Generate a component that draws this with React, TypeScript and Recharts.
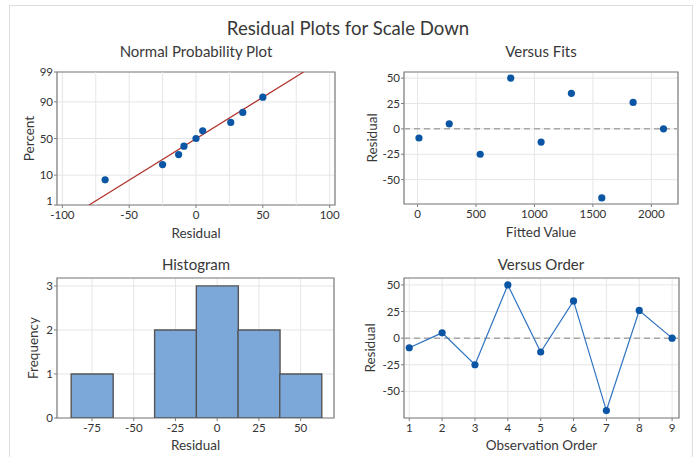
import React from 'react';
import {
  ComposedChart,
  Scatter,
  Line,
  Bar,
  XAxis,
  YAxis,
  CartesianGrid,
  ReferenceLine,
  ReferenceArea,
  Label,
} from 'recharts';

const observationOrder = [1, 2, 3, 4, 5, 6, 7, 8, 9];
const residuals = [-9, 5, -25, 50, -13, 35, -68, 26, 0];
const fittedValues = [12, 271, 536, 797, 1057, 1316, 1576, 1844, 2104];

// normal probability plot
const sortedResiduals = [-68, -25, -13, -9, 0, 5, 26, 35, 50];
const plotPercents = [7.4, 18.1, 28.7, 39.4, 50, 60.6, 71.3, 81.9, 92.6];
const fitLineResiduals = [-80, 80.5];
const fitLinePercents = [1, 99];
const percentTicks = [1, 10, 50, 90, 99];

// histogram
const binCenters = [-75, -50, -25, 0, 25, 50];
const binCounts = [1, 0, 2, 3, 2, 1];

const FONT = 'Lato, "Noto Sans", sans-serif';
const TEXT = '#383838';
const GRID = '#e6e6e6';
const FRAME = '#7f7f7f';
const BLUE = '#0b56a4';

// inverse normal cdf (Acklam) so the y axis can be a probability scale
function probit(pct: number) {
  const p = pct / 100;
  const a = [-39.69683028665376, 220.9460984245205, -275.9285104469687, 138.357751867269, -30.66479806614716, 2.506628277459239];
  const b = [-54.47609879822406, 161.5858368580409, -155.6989798598866, 66.80131188771972, -13.28068155288572];
  const c = [-0.007784894002430293, -0.3223964580411365, -2.400758276161838, -2.549732539343734, 4.374664141464968, 2.938163982698783];
  const d = [0.007784695709041462, 0.3224671290700398, 2.445134137142996, 3.754408661907416];
  const lo = 0.02425;
  if (p < lo) {
    const q = Math.sqrt(-2 * Math.log(p));
    return (((((c[0] * q + c[1]) * q + c[2]) * q + c[3]) * q + c[4]) * q + c[5]) /
      ((((d[0] * q + d[1]) * q + d[2]) * q + d[3]) * q + 1);
  }
  if (p > 1 - lo) {
    const q = Math.sqrt(-2 * Math.log(1 - p));
    return -(((((c[0] * q + c[1]) * q + c[2]) * q + c[3]) * q + c[4]) * q + c[5]) /
      ((((d[0] * q + d[1]) * q + d[2]) * q + d[3]) * q + 1);
  }
  const q = p - 0.5;
  const r = q * q;
  return (((((a[0] * r + a[1]) * r + a[2]) * r + a[3]) * r + a[4]) * r + a[5]) * q /
    (((((b[0] * r + b[1]) * r + b[2]) * r + b[3]) * r + b[4]) * r + 1);
}

const probData = sortedResiduals.map((x, i) => ({ x, z: probit(plotPercents[i]) }));
const fitData = fitLineResiduals.map((x, i) => ({ x, z: probit(fitLinePercents[i]) }));
const zTicks = percentTicks.map(probit);
const zDomain = [probit(1), probit(99)];

const fitsData = fittedValues.map((x, i) => ({ x, r: residuals[i] }));
const orderData = observationOrder.map((x, i) => ({ x, r: residuals[i] }));
const histData = binCenters.map((x, i) => ({ x, count: binCounts[i] }));

const tick = { fontSize: 11.5, fill: '#333', fontFamily: FONT };
const axisTitle = { fontSize: 13.5, fill: TEXT, fontFamily: FONT, textAnchor: 'middle' as const };

const Dot = (props: any) =>
  props.cx == null ? null : <circle cx={props.cx} cy={props.cy} r={3.6} fill={BLUE} />;

// percent ticks: the bottom label sits a little higher so it clears "-100"
const PercentTick = (props: any) => {
  const { x, y, payload, index } = props;
  const label = percentTicks[index] ?? '';
  return (
    <text x={x} y={y} dy={index === 0 ? 0 : 4} textAnchor="end" {...tick}>
      {String(label)}
    </text>
  );
};

function Frame({ x, y }: { x: number[]; y: number[] }) {
  return (
    <ReferenceArea
      x1={x[0]}
      x2={x[1]}
      y1={y[0]}
      y2={y[1]}
      fill="none"
      stroke={FRAME}
      strokeWidth={1.2}
      ifOverflow="visible"
    />
  );
}

function ProbabilityPlot() {
  const xDom = [-104, 104];
  return (
    <ComposedChart width={347} height={190} margin={{ top: 12, right: 12, bottom: 0, left: 0 }}>
      <CartesianGrid stroke={GRID} />
      {[-75, -25, 25, 75].map((v) => (
        <ReferenceLine key={v} x={v} stroke={GRID} />
      ))}
      <XAxis
        type="number"
        dataKey="x"
        domain={xDom}
        ticks={[-100, -50, 0, 50, 100]}
        allowDataOverflow
        axisLine={false}
        tickLine={{ stroke: FRAME }}
        tickSize={3}
        tickMargin={3}
        tick={tick}
        height={45}
      >
        <Label value="Residual" position="insideBottom" offset={12} style={axisTitle} />
      </XAxis>
      <YAxis
        type="number"
        dataKey="z"
        domain={zDomain}
        ticks={zTicks}
        allowDataOverflow
        axisLine={false}
        tickLine={{ stroke: FRAME }}
        tickSize={3}
        tickMargin={1}
        tick={<PercentTick />}
        width={57}
      >
        <Label value="Percent" angle={-90} position="insideLeft" offset={29} style={axisTitle} />
      </YAxis>
      <Line data={fitData} dataKey="z" type="linear" stroke="#b0302a" strokeWidth={1.2} dot={false} isAnimationActive={false} />
      <Scatter data={probData} dataKey="z" shape={Dot} isAnimationActive={false} />
      <Frame x={xDom} y={zDomain} />
    </ComposedChart>
  );
}

function VersusFits() {
  const xDom = [-116, 2228];
  const yDom = [-74, 56];
  return (
    <ComposedChart width={347} height={190} data={fitsData} margin={{ top: 12, right: 16, bottom: 0, left: 0 }}>
      <CartesianGrid stroke={GRID} />
      <XAxis
        type="number"
        dataKey="x"
        domain={xDom}
        ticks={[0, 500, 1000, 1500, 2000]}
        allowDataOverflow
        axisLine={false}
        tickLine={{ stroke: FRAME }}
        tickSize={3}
        tickMargin={3}
        tick={tick}
        height={46}
      >
        <Label value="Fitted Value" position="insideBottom" offset={13} style={axisTitle} />
      </XAxis>
      <YAxis
        type="number"
        domain={yDom}
        ticks={[-50, -25, 0, 25, 50]}
        allowDataOverflow
        axisLine={false}
        tickLine={{ stroke: FRAME }}
        tickSize={3}
        tickMargin={1}
        tick={tick}
        width={57}
      >
        <Label value="Residual" angle={-90} position="insideLeft" offset={25} style={axisTitle} />
      </YAxis>
      <ReferenceLine y={0} stroke="#a8a8a8" strokeWidth={1.5} strokeDasharray="6 4" />
      <Scatter dataKey="r" shape={Dot} isAnimationActive={false} />
      <Frame x={xDom} y={yDom} />
    </ComposedChart>
  );
}

function Histogram() {
  const xDom = [-96, 70];
  const yDom = [0, 3.18];
  return (
    <ComposedChart
      width={347}
      height={207}
      data={histData}
      barCategoryGap={0}
      barGap={0}
      margin={{ top: 28, right: 13, bottom: 0, left: 0 }}
    >
      <CartesianGrid stroke={GRID} />
      <XAxis
        type="number"
        dataKey="x"
        domain={xDom}
        ticks={binCenters}
        allowDataOverflow
        axisLine={false}
        tickLine={{ stroke: FRAME }}
        tickSize={3}
        tickMargin={3}
        tick={tick}
        height={39}
      >
        <Label value="Residual" position="insideBottom" offset={7} style={axisTitle} />
      </XAxis>
      <YAxis
        type="number"
        domain={yDom}
        ticks={[0, 1, 2, 3]}
        allowDataOverflow
        axisLine={false}
        tickLine={{ stroke: FRAME }}
        tickSize={3}
        tickMargin={1}
        tick={tick}
        width={57}
      >
        <Label value="Frequency" angle={-90} position="insideLeft" offset={33} style={axisTitle} />
      </YAxis>
      <Bar dataKey="count" fill="#7ba7d9" stroke="#555" strokeWidth={1.4} isAnimationActive={false} />
      <Frame x={xDom} y={yDom} />
    </ComposedChart>
  );
}

function VersusOrder() {
  const xDom = [0.84, 9.21];
  const yDom = [-75, 56.5];
  return (
    <ComposedChart width={347} height={207} data={orderData} margin={{ top: 28, right: 15, bottom: 0, left: 0 }}>
      <CartesianGrid stroke={GRID} />
      <XAxis
        type="number"
        dataKey="x"
        domain={xDom}
        ticks={observationOrder}
        allowDataOverflow
        axisLine={false}
        tickLine={{ stroke: FRAME }}
        tickSize={3}
        tickMargin={3}
        tick={tick}
        height={39}
      >
        <Label value="Observation Order" position="insideBottom" offset={7} style={axisTitle} />
      </XAxis>
      <YAxis
        type="number"
        domain={yDom}
        ticks={[-50, -25, 0, 25, 50]}
        allowDataOverflow
        axisLine={false}
        tickLine={{ stroke: FRAME }}
        tickSize={3}
        tickMargin={1}
        tick={tick}
        width={57}
      >
        <Label value="Residual" angle={-90} position="insideLeft" offset={23} style={axisTitle} />
      </YAxis>
      <ReferenceLine y={0} stroke="#a8a8a8" strokeWidth={1.5} strokeDasharray="6 4" />
      <Line
        dataKey="r"
        type="linear"
        stroke="#2f73c0"
        strokeWidth={1.2}
        dot={{ r: 3.6, fill: BLUE, stroke: BLUE, strokeWidth: 0 }}
        isAnimationActive={false}
      />
      <Frame x={xDom} y={yDom} />
    </ComposedChart>
  );
}

export default function App() {
  const titleStyle = { fontFamily: FONT, fill: TEXT };
  return (
    <div style={{ position: 'absolute', left: 0, top: 0, width: 694, height: 457, background: '#fff', overflow: 'hidden' }}>
      <div style={{ position: 'absolute', left: 9, top: 5, width: 682, height: 470, border: '1px solid #dedede' }} />
      <div style={{ position: 'absolute', left: 0, top: 60 }}>
        <ProbabilityPlot />
      </div>
      <div style={{ position: 'absolute', left: 347, top: 60 }}>
        <VersusFits />
      </div>
      <div style={{ position: 'absolute', left: 0, top: 250 }}>
        <Histogram />
      </div>
      <div style={{ position: 'absolute', left: 347, top: 250 }}>
        <VersusOrder />
      </div>
      <svg width={694} height={457} style={{ position: 'absolute', left: 0, top: 0, pointerEvents: 'none' }}>
        <text x={348} y={35} textAnchor="middle" fontSize={18.6} {...titleStyle}>
          Residual Plots for Scale Down
        </text>
        <text x={196} y={57} textAnchor="middle" fontSize={15} {...titleStyle}>
          Normal Probability Plot
        </text>
        <text x={541} y={57} textAnchor="middle" fontSize={15} {...titleStyle}>
          Versus Fits
        </text>
        <text x={196} y={270} textAnchor="middle" fontSize={15} {...titleStyle}>
          Histogram
        </text>
        <text x={541} y={270} textAnchor="middle" fontSize={15} {...titleStyle}>
          Versus Order
        </text>
      </svg>
    </div>
  );
}
